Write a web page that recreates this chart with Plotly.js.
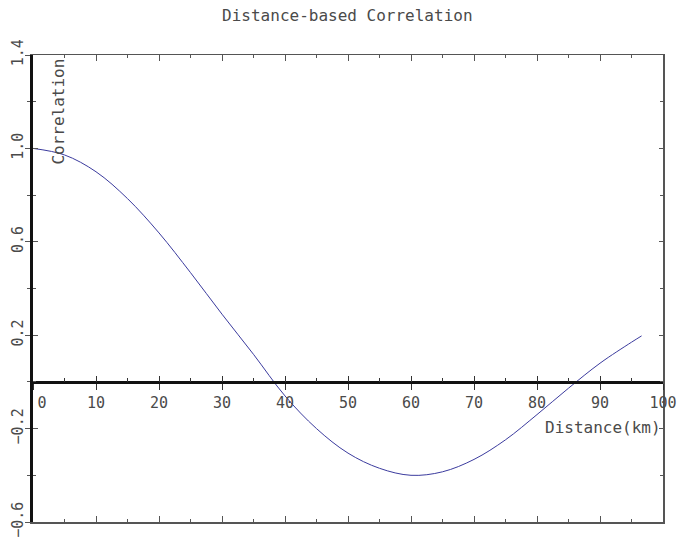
<!DOCTYPE html>
<html>
<head>
<meta charset="utf-8">
<script src="https://cdn.plot.ly/plotly-3.0.1.min.js"></script>
<style>html,body{margin:0;padding:0;background:#fff;}#chart{width:681px;height:545px;}</style>
</head>
<body>
<div id="chart"></div>
<script>
// Data
const distanceKm = [0, 5, 10, 15, 20, 25, 30, 35, 40, 45, 50, 55, 60, 65, 70, 75, 80, 85, 90, 95, 96.6];
const correlation = [1.0, 0.972, 0.900, 0.785, 0.638, 0.468, 0.290, 0.118, -0.060, -0.200, -0.305, -0.370, -0.400, -0.385, -0.332, -0.248, -0.140, -0.027, 0.080, 0.170, 0.197];
const xTickVals = [0, 10, 20, 30, 40, 50, 60, 70, 80, 90, 100];
const xTickText = ['\u00a0\u00a00', '10', '20', '30', '40', '50', '60', '70', '80', '90', '100'];
const yTickVals = [-0.6, -0.2, 0.2, 0.6, 1.0, 1.4];
const yTickText = ['\u22120.6', '\u22120.2', '0.2', '0.6', '1.0', '1.4'];

const FONT = 'DejaVu Sans Mono, monospace';
const TXT = '#4a4a4a';
const xr = [0, 100], yr = [-0.6, 1.4];

const traces = [
  {x: distanceKm, y: correlation, type: 'scatter', mode: 'lines',
   line: {color: '#3b3b9e', width: 1, shape: 'spline', smoothing: 1},
   xaxis: 'x', yaxis: 'y', hoverinfo: 'skip'},
  {x: [], y: [], type: 'scatter', xaxis: 'x2', yaxis: 'y', hoverinfo: 'skip'},
  {x: [], y: [], type: 'scatter', xaxis: 'x3', yaxis: 'y', hoverinfo: 'skip'},
  {x: [], y: [], type: 'scatter', xaxis: 'x', yaxis: 'y2', hoverinfo: 'skip'},
  {x: [], y: [], type: 'scatter', xaxis: 'x', yaxis: 'y3', hoverinfo: 'skip'}
];

const layout = {
  width: 681, height: 545,
  margin: {l: 33, r: 18, t: 55, b: 23},
  paper_bgcolor: '#fff', plot_bgcolor: '#fff',
  showlegend: false,
  font: {family: FONT, color: TXT, size: 14},
  title: {text: 'Distance-based Correlation', x: 0.51, xanchor: 'center', y: 0.972, yanchor: 'middle',
          font: {family: FONT, size: 16, color: TXT}},
  xaxis: {range: xr, showgrid: false, zeroline: false, showline: true, linecolor: '#555', linewidth: 1.5,
          mirror: 'ticks', ticks: 'inside', ticklen: 6, tickcolor: '#555', tickwidth: 1,
          tickmode: 'linear', tick0: 0, dtick: 10, showticklabels: false,
          minor: {tickmode: 'linear', tick0: 0, dtick: 5, ticks: 'inside', ticklen: 3, tickcolor: '#555', showgrid: false}},
  xaxis2: {range: xr, overlaying: 'x', anchor: 'free', position: 0.3, side: 'bottom',
           showgrid: false, zeroline: false, showline: true, linecolor: '#111', linewidth: 3,
           ticks: 'outside', ticklen: 6, tickcolor: '#333', tickwidth: 1,
           tickmode: 'array', tickvals: xTickVals, ticktext: xTickText,
           tickfont: {family: FONT, size: 15, color: TXT}},
  xaxis3: {range: xr, overlaying: 'x', anchor: 'free', position: 0.3, side: 'bottom',
           showgrid: false, zeroline: false, showline: false,
           ticks: 'inside', ticklen: 6, tickcolor: '#333', tickwidth: 1,
           tickmode: 'linear', tick0: 0, dtick: 10, showticklabels: false,
           minor: {tickmode: 'linear', tick0: 0, dtick: 5, ticks: 'inside', ticklen: 4, tickcolor: '#333', showgrid: false}},
  yaxis: {range: yr, showgrid: false, zeroline: false, showline: true, linecolor: '#111', linewidth: 3,
          ticks: 'outside', ticklen: 5, tickcolor: '#555', tickwidth: 1,
          tickmode: 'array', tickvals: yTickVals, ticktext: yTickText, tickangle: -90,
          ticklabelstandoff: -4,
          tickfont: {family: FONT, size: 15, color: TXT},
          minor: {tickmode: 'linear', tick0: -0.6, dtick: 0.2, ticks: 'outside', ticklen: 3, tickcolor: '#555', showgrid: false}},
  yaxis2: {range: yr, overlaying: 'y', side: 'left', anchor: 'x', showgrid: false, zeroline: false, showline: false,
           ticks: 'inside', ticklen: 5, tickcolor: '#555', tickwidth: 1,
           tickmode: 'linear', tick0: -0.6, dtick: 0.4, showticklabels: false,
           minor: {tickmode: 'linear', tick0: -0.6, dtick: 0.2, ticks: 'inside', ticklen: 3, tickcolor: '#555', showgrid: false}},
  yaxis3: {range: yr, overlaying: 'y', side: 'right', anchor: 'x', showgrid: false, zeroline: false,
           showline: true, linecolor: '#555', linewidth: 1.5,
           ticks: 'inside', ticklen: 4, tickcolor: '#555', tickwidth: 1,
           tickmode: 'linear', tick0: -0.6, dtick: 0.4, showticklabels: false,
           minor: {tickmode: 'linear', tick0: -0.6, dtick: 0.2, ticks: 'inside', ticklen: 3, tickcolor: '#555', showgrid: false}},
  annotations: [
    {text: 'Correlation', xref: 'paper', yref: 'paper', x: 0.04, y: 0.997, xanchor: 'center', yanchor: 'top',
     textangle: -90, showarrow: false, font: {family: FONT, size: 16, color: TXT}},
    {text: 'Distance(km)', xref: 'paper', yref: 'paper', x: 1.0, y: 0.203, xanchor: 'right', yanchor: 'middle',
     showarrow: false, font: {family: FONT, size: 16, color: TXT}}
  ]
};

Plotly.newPlot('chart', traces, layout, {displayModeBar: false, staticPlot: true});
</script>
</body>
</html>
